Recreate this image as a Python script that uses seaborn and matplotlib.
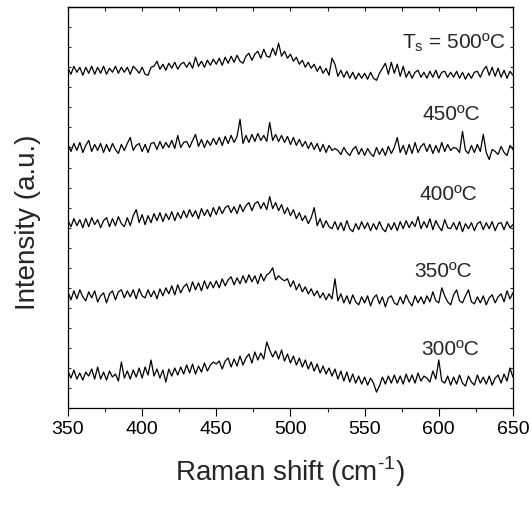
import numpy as np
import pandas as pd
import matplotlib
matplotlib.use("Agg")
import matplotlib.pyplot as plt
from matplotlib.ticker import MultipleLocator, NullFormatter
import seaborn as sns

# Raman shift grid (cm-1), one point every 2 cm-1
raman_shift = np.arange(350, 651, 2)

# intensities (pixel height above each curve's left baseline)
i_300 = [4, -3, 5, -4, 2, -5, 3, -1, 6, -4,
         8, -4, 3, -5, 4, -2, 1, -6, 13, -3,
         4, -4, 5, -2, 7, -3, 8, 0, 15, -1,
         6, -3, 5, -7, 6, -1, 7, 0, 8, 1,
         10, 2, 11, 1, 9, 3, 12, 4, 10, 13,
         11, 14, 6, 14, 17, 8, 16, 9, 19, 10,
         17, 21, 12, 23, 15, 22, 16, 33, 25, 18,
         24, 16, 25, 14, 21, 12, 19, 10, 17, 8,
         15, 6, 13, 4, 11, 2, 9, 1, 7, -1,
         6, -4, 4, -6, 3, -7, 1, -8, -1, -9,
         -2, -10, -3, -8, -17, -11, -2, -9, -1, -8,
         0, -8, -1, -9, 1, -7, 0, -8, 2, -6,
         -1, -3, -7, 4, -4, 15, -6, -8, -1, -10,
         -2, -9, 0, -8, -11, -1, -7, -10, 0, -8,
         -2, -9, -1, -10, -3, 0, -8, 1, -6, 7, -2]

i_350 = [3, -5, 4, -4, 5, -2, -6, 3, -3, 4,
         -7, -1, 2, -8, 1, 4, -5, 3, 5, -3,
         4, -2, 5, -4, 6, -1, -3, 5, -2, 4,
         -4, 6, -1, 7, 1, 9, 0, 10, 2, 8,
         11, 3, 13, 5, 12, 4, 14, 6, 13, 7,
         14, 7, 16, 9, 15, 18, 10, 17, 11, 19,
         12, 20, 13, 19, 11, 21, 14, 20, 22, 27,
         15, 19, 16, 14, 16, 8, 14, 5, 11, 3,
         8, 1, 6, -1, 4, -3, 2, -5, 1, -4,
         16, -6, 1, -8, -1, -9, 0, -7, -10, -2,
         -8, -1, -11, -3, 0, -9, -2, -12, -3, -1,
         -8, -10, -2, -9, 0, -7, -11, -1, -8, -2,
         -9, -1, -7, 3, -6, -8, 7, -1, -7, -10,
         0, 5, -6, -8, -1, 5, -7, -9, -2, -8,
         -1, -10, -3, 0, -8, -2, 1, -7, 4, -4, 2]

i_400 = [2, -4, 4, -3, 3, -5, 4, -4, 5, -2,
         3, -5, 2, 5, -4, 4, -3, 6, -1, -4,
         5, -3, 7, 13, 0, 8, -2, 7, 0, 9,
         2, 10, 1, 9, 3, 11, 2, 10, 4, 12,
         5, 13, 6, 12, 4, 14, 7, 13, 6, 15,
         8, 16, 9, 15, 17, 10, 16, 9, 18, 11,
         17, 20, 12, 19, 21, 14, 20, 13, 26, 14,
         20, 12, 18, 9, 15, 7, 13, 4, 10, 2,
         7, -1, 5, 15, -3, 4, -5, 2, -4, -6,
         1, -7, 0, -8, 2, -6, -9, -1, -7, 1,
         -6, 0, -8, -1, -7, 1, -6, -9, -1, -7,
         0, -8, 1, -6, 2, -5, 1, -4, 6, -6,
         1, -5, 4, -7, 2, -4, -8, 3, -5, -6,
         0, -7, 1, -9, -1, -6, 0, -8, -1, 1,
         -7, 0, -6, 1, -8, -1, 0, -7, 1, -5, -2]

i_450 = [3, -4, 4, -3, 5, -5, 2, 7, -4, 3,
         -3, 4, -5, 3, -4, 4, -2, -6, 3, -3,
         4, 10, -3, 2, 4, -4, 3, -5, 4, 5,
         -2, 6, -1, 5, 0, 7, -1, 12, 0, 5,
         6, 0, 7, 13, 1, 8, 0, 7, 2, 9,
         3, 10, 2, 11, 4, 12, 5, 11, 28, 4,
         12, 5, 13, 6, 14, 7, 12, 6, 25, 7,
         13, 6, 12, 5, 11, 3, 10, 2, 8, 1,
         6, -1, 5, -2, 4, -4, 3, -5, 2, -3,
         -1, -3, -7, 0, -5, -8, -2, 1, -7, -1,
         -8, -1, -6, -9, 0, -7, -1, -8, 1, -6,
         0, 10, -5, 2, -7, 3, -6, 5, -5, 1,
         4, -4, 3, -6, 2, -5, 5, -4, 3, -3,
         0, -1, -5, 16, -3, -6, 2, -5, 3, -4,
         13, -5, -12, -2, -4, -7, 1, -5, -8, 2, -2]

i_500 = [2, -4, 4, -2, 3, -5, 3, -3, 4, -4,
         3, -3, 4, -4, 2, -2, 4, -3, 3, -2,
         3, -4, 4, 1, -3, 3, -4, -5, 3, 4,
         9, 1, 6, 0, 7, 2, 8, 1, 6, 8,
         3, 8, 2, 13, 4, 9, 3, 10, 5, 11,
         6, 12, 5, 13, 7, 14, 8, 15, 9, 7,
         14, 17, 10, 16, 19, 12, 21, 14, 13, 22,
         15, 27, 14, 19, 12, 16, 9, 13, 6, 10,
         3, 8, 2, 6, -1, 4, -3, 2, -5, 12,
         6, -6, 0, -7, -1, -8, -2, -9, -3, -8,
         -3, -9, -2, -8, -10, -3, 2, 7, -4, 8,
         -3, 6, -6, 4, -7, -1, -8, -2, 0, -7,
         -2, -8, -1, -7, 0, -8, -2, -1, -7, -2,
         -7, -1, -8, -2, -9, -3, -8, -2, -1, -7,
         0, 4, -5, 3, -6, 2, -7, 0, -8, -1, -5]

temperatures = ["300ºC", "350ºC", "400ºC", "450ºC", "500ºC"]
spectra = [i_300, i_350, i_400, i_450, i_500]
offsets = [1.65, 5.65, 9.25, 13.0, 16.85]
label_text = ["300ºC", "350ºC", "400ºC", "450ºC", r"T$_\mathregular{s}$ = 500ºC"]
label_x = [627, 622.5, 626, 628, 644.5]
label_y = [2.64, 6.53, 10.37, 14.36, 17.96]

sns.set_style("ticks")
plt.rcParams["font.family"] = ["Liberation Sans", "DejaVu Sans"]
plt.rcParams["mathtext.fontset"] = "custom"
plt.rcParams["mathtext.rm"] = "Liberation Sans"

fig = plt.figure(figsize=(5.31, 5.07), dpi=100)
ax = fig.add_axes([0.128, 0.195, 0.838, 0.791])

for temp, vals, off in zip(temperatures, spectra, offsets):
    df = pd.DataFrame({"shift": raman_shift, "intensity": off + np.array(vals) * 0.05})
    sns.lineplot(data=df, x="shift", y="intensity", color="black", linewidth=0.9, ax=ax)

for txt, tx, ty in zip(label_text, label_x, label_y):
    ax.text(tx, ty, txt, ha="right", va="baseline", fontsize=15)

ax.set_xlim(350, 650)
ax.set_ylim(0, 20)
ax.xaxis.set_major_locator(MultipleLocator(50))
ax.xaxis.set_minor_locator(MultipleLocator(25))
ax.yaxis.set_major_locator(MultipleLocator(1))
ax.yaxis.set_major_formatter(NullFormatter())

ax.tick_params(axis="x", which="major", direction="out", length=6, width=0.8,
               labelsize=14, colors="black", pad=3)
ax.tick_params(axis="x", which="minor", direction="out", length=3, width=0.8)
ax.tick_params(axis="y", which="major", direction="in", length=2.5, width=0.8,
               left=True, right=True)

# inward ticks on the top edge at every 25
top = ax.secondary_xaxis("top")
top.xaxis.set_major_locator(MultipleLocator(25))
top.xaxis.set_major_formatter(NullFormatter())
top.tick_params(direction="in", length=3, width=0.8)

for s in ax.spines.values():
    s.set_linewidth(0.9)
    s.set_color("black")
top.spines["top"].set_linewidth(0.9)

ax.set_xlabel("Raman shift (cm$^{\\mathregular{\u20101}}$)", fontsize=20)
ax.set_ylabel("Intensity (a.u.)", fontsize=20)
ax.xaxis.set_label_coords(0.5, -0.115)
ax.yaxis.set_label_coords(-0.06, 0.464)

fig.savefig("out.png", dpi=100)
